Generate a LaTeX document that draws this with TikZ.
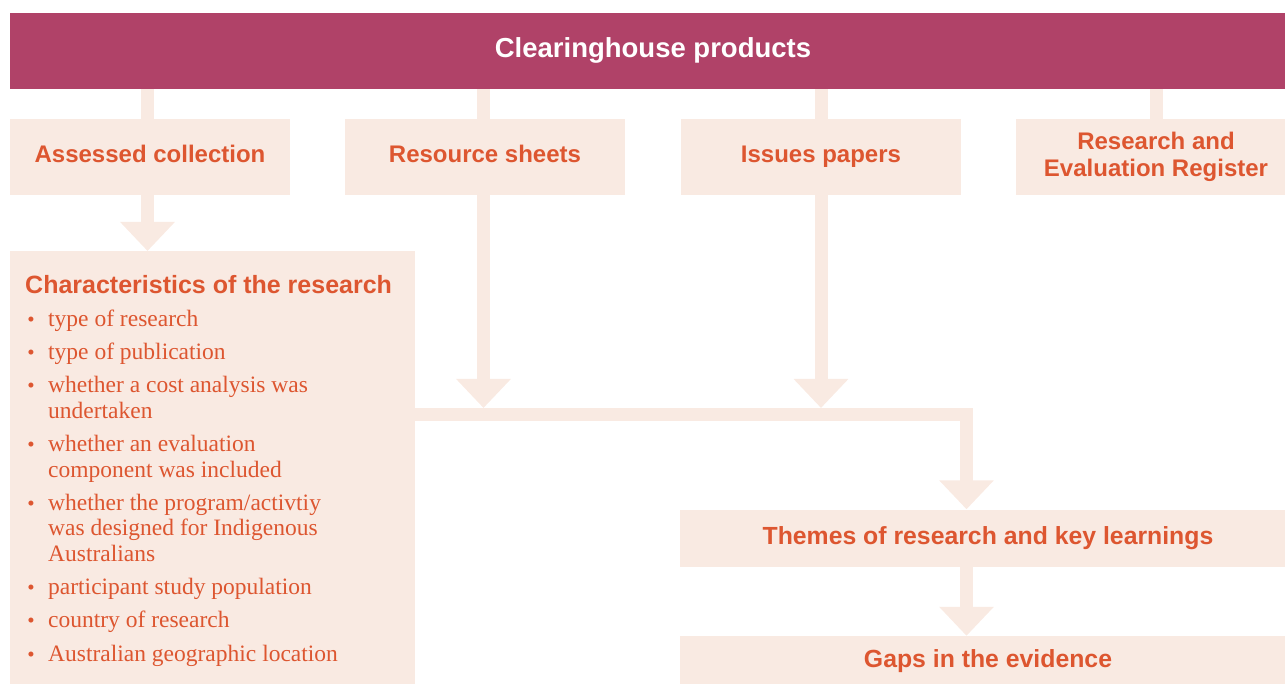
\documentclass[tikz,border=0pt]{standalone}
\usepackage{fontspec}
\setmainfont{Liberation Serif}
\setsansfont{Liberation Sans}
\usetikzlibrary{arrows.meta}
\definecolor{hdrcol}{RGB}{176,66,104}
\definecolor{boxfill}{RGB}{249,234,226}
\definecolor{txt}{RGB}{221,86,48}
\begin{document}
\begin{tikzpicture}[x=1pt,y=-1pt,
  box/.style={fill=boxfill, draw=none, inner sep=0pt, text=txt,
    font=\sffamily\bfseries\fontsize{24}{26.5}\selectfont, align=center},
  oneline/.style={text height=17pt, text depth=5pt},
  flow/.style={draw=boxfill, line width=13pt},
  flowarrow/.style={flow, -{Triangle[width=53pt,length=29pt]}},
  item/.style={anchor=base west, inner sep=0pt, text=txt,
    font=\rmfamily\fontsize{23.5}{26}\selectfont},
  bul/.style={anchor=base, inner sep=0pt, text=txt,
    font=\rmfamily\fontsize{21}{26}\selectfont}]
\useasboundingbox (0,0) rectangle (1285,684);
\clip (0,0) rectangle (1285,684);

% header
\node[fill=hdrcol, inner sep=0pt, minimum width=1286pt, minimum height=76pt,
  text height=18pt, text depth=4pt,
  text=white, font=\sffamily\bfseries\fontsize{27.5}{30}\selectfont]
  (hdr) at (653,51) {Clearinghouse products};

% product boxes
\node[box, oneline, minimum width=280pt, minimum height=76pt] (ac)  at (150,157) {Assessed collection};
\node[box, oneline, minimum width=280pt, minimum height=76pt] (rs)  at (485,157) {Resource sheets};
\node[box, oneline, minimum width=280pt, minimum height=76pt] (ip)  at (821,157) {Issues papers};
\node[box, minimum width=280pt, minimum height=76pt] (rer) at (1156,157) {Research and\\Evaluation Register};

% characteristics box
\node[box, minimum width=405pt, minimum height=440pt, anchor=north west] (char) at (10,251) {};
\node[anchor=base west, inner sep=0pt, text=txt,
  font=\sffamily\bfseries\fontsize{25}{27}\selectfont] (charh) at (25,294) {Characteristics of the research};

\node[bul] (b1) at (31,327) {•};   \node[item] (l1) at (48,327) {type of research};
\node[bul] (b2) at (31,359.5) {•}; \node[item] (l2) at (48,359.5) {type of publication};
\node[bul] (b3) at (31,392.5) {•}; \node[item] (l3) at (48,392.5) {whether a cost analysis was};
                                   \node[item] (l3b) at (48,418) {undertaken};
\node[bul] (b4) at (31,451) {•};   \node[item] (l4) at (48,451) {whether an evaluation};
                                   \node[item] (l4b) at (48,477) {component was included};
\node[bul] (b5) at (31,510) {•};   \node[item] (l5) at (48,510) {whether the program/activtiy};
                                   \node[item] (l5b) at (48,535.5) {was designed for Indigenous};
                                   \node[item] (l5c) at (48,561) {Australians};
\node[bul] (b6) at (31,594) {•};   \node[item] (l6) at (48,594) {participant study population};
\node[bul] (b7) at (31,627) {•};   \node[item] (l7) at (48,627) {country of research};
\node[bul] (b8) at (31,661) {•};   \node[item] (l8) at (48,661) {Australian geographic location};

% lower boxes
\node[box, oneline, minimum width=616pt, minimum height=57pt,
  font=\sffamily\bfseries\fontsize{24.8}{27}\selectfont] (them) at (988,538) {Themes of research and key learnings};
\node[box, oneline, minimum width=616pt, minimum height=50pt,
  font=\sffamily\bfseries\fontsize{24.8}{27}\selectfont] (gaps) at (988,661) {Gaps in the evidence};

% connectors
\coordinate (bend) at (966.5,414.5);
\coordinate (bar) at (966.5,408);
\draw[flow] ([xshift=-2.5pt]hdr.south -| ac.north) -- ([xshift=-2.5pt]ac.north);
\draw[flow] ([xshift=-1.5pt]hdr.south -| rs.north) -- ([xshift=-1.5pt]rs.north);
\draw[flow] (hdr.south -| ip.north) -- (ip.north);
\draw[flow] (hdr.south -| rer.north) -- (rer.north);
\draw[flowarrow] ([xshift=-2.5pt]ac.south) -- ([xshift=-2.5pt]ac.south |- char.north);
\draw[flowarrow] ([xshift=-1.5pt]rs.south) -- ([xshift=-1.5pt]rs.south |- bar);
\draw[flowarrow] (ip.south) -- (ip.south |- bar);
\draw[flowarrow] (char.east |- bend) -- (bend) -- (bend |- them.north);
\draw[flowarrow] (them.south -| bend) -- (gaps.north -| bend);
\end{tikzpicture}
\end{document}
